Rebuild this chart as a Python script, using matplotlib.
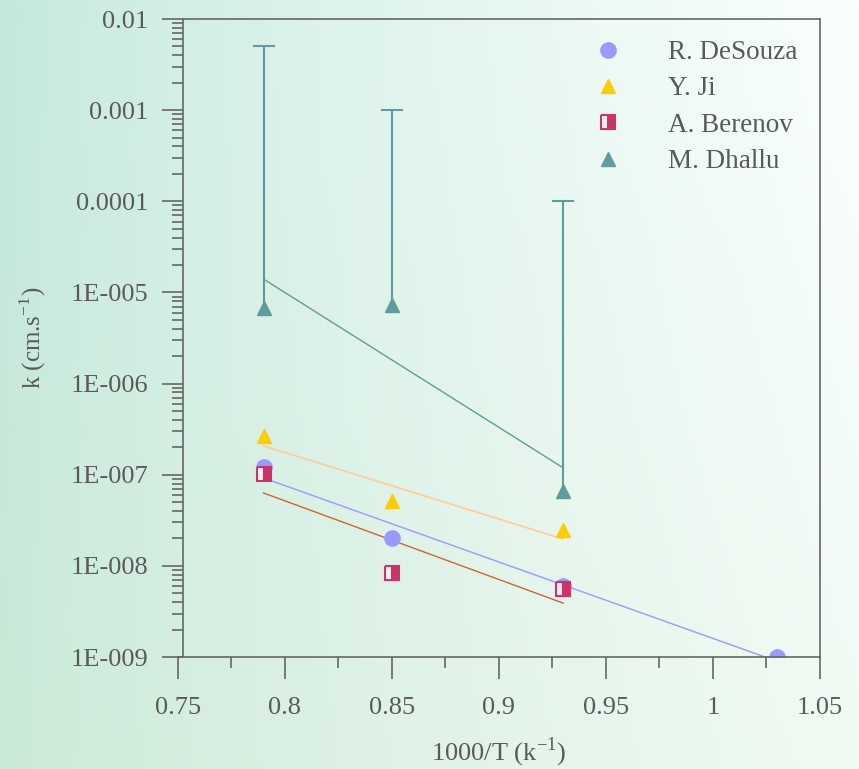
import numpy as np
import matplotlib
matplotlib.use('Agg')
import matplotlib.pyplot as plt

plt.rcParams['font.family'] = ['Liberation Serif', 'DejaVu Serif']

# data
x_desouza = [0.79, 0.85, 0.93, 1.03]
k_desouza = [1.22e-7, 2.0e-8, 6.0e-9, 1.0e-9]
fit_x_desouza = [0.79, 1.0243]
fit_k_desouza = [9.2e-8, 1.0e-9]

x_ji = [0.79, 0.85, 0.93]
k_ji = [2.66e-7, 5.1e-8, 2.45e-8]
fit_x_ji = [0.79, 0.93]
fit_k_ji = [2.07e-7, 1.97e-8]

x_berenov = [0.79, 0.85, 0.93]
k_berenov = [1.02e-7, 8.3e-9, 5.6e-9]
fit_x_berenov = [0.79, 0.93]
fit_k_berenov = [6.3e-8, 3.9e-9]

x_dhallu = [0.79, 0.85, 0.93]
k_dhallu = [6.7e-6, 7.3e-6, 6.7e-8]
k_dhallu_upper = [5e-3, 1e-3, 1e-4]
fit_x_dhallu = [0.79, 0.93]
fit_k_dhallu = [1.4e-5, 1.19e-7]

y_ticks = [1e-2, 1e-3, 1e-4, 1e-5, 1e-6, 1e-7, 1e-8, 1e-9]
y_labels = ['0.01', '0.001', '0.0001', '1E-005', '1E-006', '1E-007', '1E-008', '1E-009']
x_ticks = [0.75, 0.8, 0.85, 0.9, 0.95, 1.0, 1.05]
x_labels = ['0.75', '0.8', '0.85', '0.9', '0.95', '1', '1.05']

text_col = '#5a5a5a'
axis_col = '#666666'

fig = plt.figure(figsize=(8.59, 7.69), dpi=100)

# gradient background
bg = fig.add_axes([0, 0, 1, 1], zorder=-10)
h, w = 100, 200
t = np.linspace(0, 1, w)[None, :, None]
v = np.linspace(0, 1, h)[:, None, None]
left_top = np.array([196, 232, 222]) / 255
left_bot = np.array([202, 233, 214]) / 255
right_top = np.array([250, 255, 253]) / 255
right_bot = np.array([240, 250, 243]) / 255
left = left_top * (1 - v) + left_bot * v
right = right_top * (1 - v) + right_bot * v
img = left * (1 - t ** 0.8) + right * t ** 0.8
bg.imshow(img, aspect='auto', extent=[0, 1, 0, 1])
bg.axis('off')

ax = fig.add_axes([178 / 859, 1 - 657 / 769, 642 / 859, 638 / 769])
ax.set_facecolor('none')
ax.set_yscale('log')
ax.set_xlim(0.75, 1.05)
ax.set_ylim(1e-9, 1e-2)

# fit lines
ax.plot(fit_x_dhallu, fit_k_dhallu, color='#5f9c9c', lw=1.0)
ax.plot(fit_x_ji, fit_k_ji, color='#ffcc99', lw=1.2)
ax.plot(fit_x_desouza, fit_k_desouza, color='#9999ff', lw=1.0)
ax.plot(fit_x_berenov, fit_k_berenov, color='#cc6633', lw=1.0)

# upper error bars for Dhallu
ax.vlines(x_dhallu, k_dhallu, k_dhallu_upper, color='#5f9c9c', lw=1.5)
ax.plot(x_dhallu, k_dhallu_upper, ls='none', marker='_', markersize=16,
        markeredgewidth=1.5, color='#5f9c9c')

ax.plot(x_desouza, k_desouza, ls='none', marker='o', markersize=11,
        color='#9999ff', label='R. DeSouza')
ax.plot(x_ji, k_ji, ls='none', marker='^', markersize=10,
        color='#ffcc00', label='Y. Ji')
ax.plot(x_berenov, k_berenov, ls='none', marker='s', markersize=9.5,
        fillstyle='left', markerfacecolor='#f2f2f2', markerfacecoloralt='#cc3366',
        markeredgecolor='#cc3366', markeredgewidth=1.5, label='A. Berenov')
ax.plot(x_dhallu, k_dhallu, ls='none', marker='^', markersize=10,
        color='#5f9c9c', label='M. Dhallu')

ax.set_yticks(y_ticks)
ax.set_yticklabels(y_labels)
ax.set_xticks(x_ticks)
ax.set_xticklabels(x_labels)
ax.set_xticks([0.775, 0.825, 0.875, 0.925, 0.975, 1.025], minor=True)

for s in ax.spines.values():
    s.set_color(axis_col)
    s.set_linewidth(1.2)
ax.spines['left'].set_position(('data', 0.7523))
ax.spines['top'].set_bounds(0.7523, 1.05)

ax.tick_params(axis='both', which='major', direction='out', color=axis_col,
               width=1.2, labelsize=19, labelcolor=text_col)
ax.tick_params(axis='y', which='major', length=15, pad=10)
ax.tick_params(axis='y', which='minor', length=8, width=1.2, color=axis_col)
ax.tick_params(axis='x', which='major', length=16, pad=13)
ax.tick_params(axis='x', which='minor', length=8, width=1.2, color=axis_col)
ax.tick_params(right=False, top=False, which='both')

ax.set_ylabel('k (cm.s$^{\\mathregular{-1}}$)', fontsize=18, color=text_col, labelpad=16)
ax.set_xlabel('1000/T (k$^{\\mathregular{-1}}$)', fontsize=19, color=text_col, labelpad=12)

leg = ax.legend(loc='upper left', bbox_to_anchor=(594 / 859, 1 - 40 / 769),
                bbox_transform=fig.transFigure, frameon=False, fontsize=19.5,
                handlelength=1.0, handletextpad=1.75, labelspacing=0.42,
                borderpad=0, borderaxespad=0)
for txt in leg.get_texts():
    txt.set_color(text_col)

fig.savefig('out.png', dpi=100)
